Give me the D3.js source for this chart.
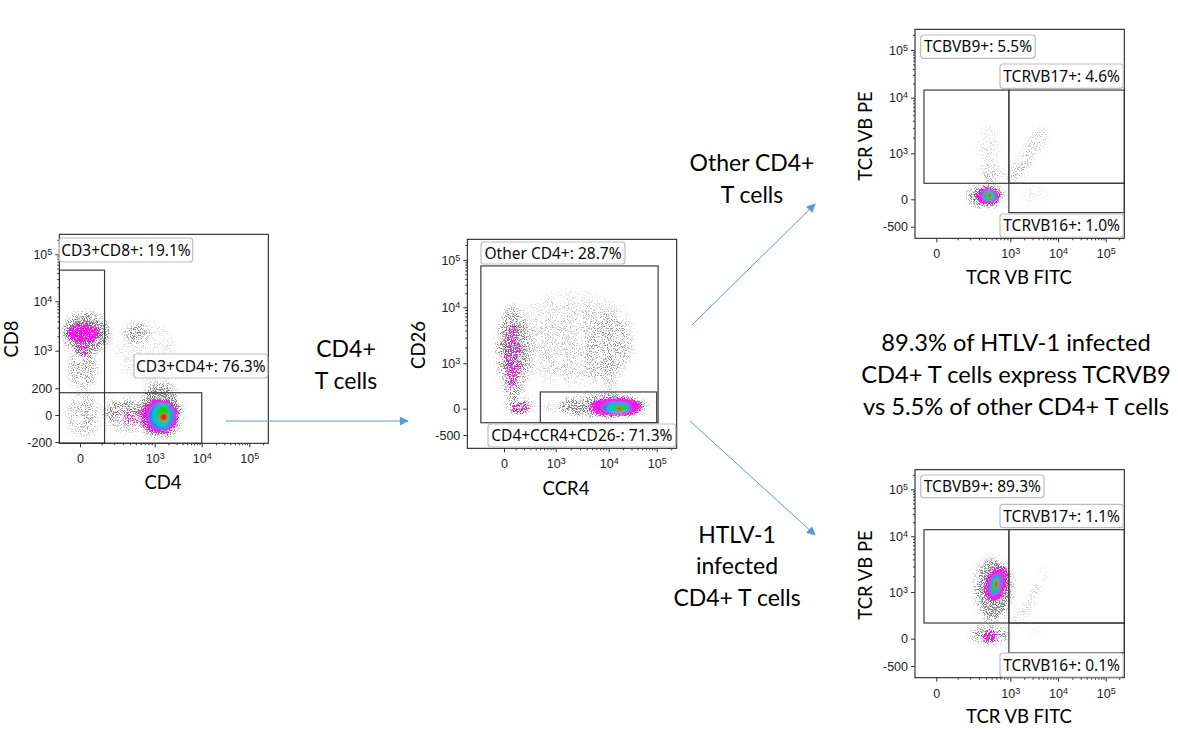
<!DOCTYPE html>
<html><head><meta charset="utf-8">
<script src="https://cdn.jsdelivr.net/npm/d3@7"></script>
<style>
html,body{margin:0;padding:0;background:#fff}
svg{display:block}
.slide{font-family:Lato,"Open Sans",sans-serif;fill:#000}
.tick text{font-family:"Liberation Sans",Arial,sans-serif;font-size:12.5px;fill:#222}
.gatelabel{font-family:"Noto Sans",sans-serif;font-size:15.5px;fill:#0a0a0a}
</style></head><body>
<svg id="c" width="1178" height="749"></svg>
<script>
// ---------- tick labels (value, text) shared by the axes
const xTickValues = [0, 1e3, 1e4, 1e5];
const xMinorValues = [100,200,300,400,500,600,700,800,900,2e3,3e3,4e3,5e3,6e3,7e3,8e3,9e3,2e4,3e4,4e4,5e4,6e4,7e4,8e4,9e4,2e5];
const yTicksCd8 = [-200, 0, 200, 1e3, 1e4, 1e5];
const yTicksOther = [-500, 0, 1e3, 1e4, 1e5];
const yMinorValues = [2e3,3e3,4e3,5e3,6e3,7e3,8e3,9e3,2e4,3e4,4e4,5e4,6e4,7e4,8e4,9e4,2e5];

// ---------- density regions, in axis values
// ellipses: [xLow, xHigh, yLow, yHigh, density]  tilted regions: [density, [x,y], [x,y], ...]
const cd4Grey = [
  [-75,160,900,6000,.72],[-45,75,200,1100,.42],[-55,95,-180,170,.26],[-20,60,-100,120,.2],
  [340,780,1400,3700,.48],[200,2800,280,4200,.14],
  [560,3900,-160,220,.75],[750,2600,40,340,.35],[120,700,-55,85,.45],[110,850,-120,120,.2]
];
const cd4Magenta = [[-50,90,1450,3700,.98],[-15,35,850,1600,.34],[620,3200,-108,92,1],[300,800,-35,25,.28]];
const cd4Cores = [
  ["#ee1ae6",720,2950,-92,78],["#2a78ee",800,2700,-82,68],["#00c8d2",920,2350,-65,58],["#18cc18",1120,2100,-39,49],["#e2241a",1300,1900,-28,8]
];
const ccr4Grey = [
  [-50,280,90,1.1e4,.52],[-10,170,800,5000,.4],[60,3.6e4,280,2.2e4,.17],[300,3e4,400,1.1e4,.11],[4000,2.6e4,280,8000,.22],
  [10,340,-55,110,.52],[1200,6.5e4,-110,165,.62],[500,4000,-35,50,.3],[8500,1.5e4,80,400,.24]
];
const ccr4Magenta = [[5,160,280,5000,.46],[55,270,-45,55,.55],[4500,5e4,-80,108,1]];
const ccr4Cores = [
  ["#ee1ae6",5200,4.5e4,-68,95],["#2a78ee",7500,3e4,-48,65],["#00c8d2",9000,2.7e4,-40,48],["#18cc18",1.2e4,2.4e4,-30,30],["#e2241a",1.5e4,1.9e4,-18,18]
];
const vb1Grey = [
  [175,800,-90,150,.7],[290,680,190,3200,.17],[330,800,170,500,.24],[1900,6000,-60,140,.13]
];
const vb1Tilted = [[.32,[880,310],[2000,1200],[4500,3000],[6000,2300],[3000,700],[1400,170]]];
const vb1Magenta = [[265,690,-50,115,1]];
const vb1Cores = [
  ["#ee1ae6",290,650,-38,104],["#2a78ee",340,610,-25,90],["#00c8d2",360,570,-12,75],["#18cc18",380,530,0,60],["#e2241a",430,500,15,50]
];
const vb2Grey = [
  [265,1060,280,3900,.7],[350,780,180,500,.5],[215,1250,200,4800,.2],[205,950,-55,120,.62],[1900,6000,30,90,.1]
];
const vb2Tilted = [[.26,[1000,180],[2000,550],[5000,2700],[5600,2400],[3000,500],[1400,130]]];
const vb2MagentaTilted = [[1,[420,780],[410,1750],[620,2900],[850,2550],[830,1100],[620,670]]];
const vb2Magenta = [[340,610,-22,65,.85]];
const vb2CoresTilted = [
  ["#ee1ae6",[445,840],[440,1700],[620,2650],[790,2300],[770,1100],[610,750]],
  ["#2a78ee",[480,920],[480,1700],[620,2250],[720,1950],[700,1100],[580,870]],
  ["#00c8d2",[510,1000],[520,1700],[630,2000],[680,1700],[650,1100],[560,960]],
  ["#18cc18",[530,1020],[540,1600],[620,1850],[650,1550],[620,1120]],
  ["#e2241a",[570,1200],[575,1600],[630,1700],[625,1300]]
];

// ---------- gates as axis values [xLow, xHigh, yLow, yHigh]
const cd4Gates = [[-94,120,-210,4.6e4],[-94,1e4,-210,150]];
const ccr4Gates = [[-200,1.07e5,-190,7.5e4],[504,1.0e5,-190,187]];
const vb1Gates = [[-45,950,173,1.45e4],[950,2.6e5,173,1.45e4],[950,2.6e5,-168,173]];
const vb2Gates = [[-45,950,165,1.39e4],[950,2.6e5,165,1.39e4],[950,2.6e5,-180,165]];

// ---------- gate labels
const cd4Labels = ["CD3+CD8+: 19.1%","CD3+CD4+: 76.3%"];
const ccr4Labels = ["Other CD4+: 28.7%","CD4+CCR4+CD26-: 71.3%"];
const vb1Labels = ["TCBVB9+: 5.5%","TCRVB17+: 4.6%","TCRVB16+: 1.0%"];
const vb2Labels = ["TCBVB9+: 89.3%","TCRVB17+: 1.1%","TCRVB16+: 0.1%"];

// ---------- slide text
const noteTexts = [
  ["CD4+",346,349],["T cells",346,381],["Other CD4+",752,163],["T cells",752,195],
  ["HTLV-1",737,535],["infected",737,566],["CD4+ T cells",737,598]
];
const summaryTexts = [
  ["89.3% of HTLV-1 infected",1016,343],["CD4+ T cells express TCRVB9",1016,375],["vs 5.5% of other CD4+ T cells",1016,407]
];
const arrows = [[226,421,408,421],[692,325,815,204],[690,421,815,535]];

// ---------- layout
const panels = [
 {name:"cd4", frame:[59.3,268.3,234.3,443.3], xc:100,yc:100,
  xd:[-94,0,1e3,1e4,1e5,2.6e5], xr:[59.3,80,154.7,201.7,249.3,268.3],
  yd:[-210,-200,0,200,1e3,1e4,1e5,2.6e5], yr:[443.3,442,415,388.3,350.7,301.3,254.3,234.3],
  yt:yTicksCd8, grey:cd4Grey, tilted:[], magenta:cd4Magenta, magT:[], cores:cd4Cores, coresT:[], gates:cd4Gates, labels:cd4Labels,
  boxes:[[59.3,238,133.4,24],[134,354,133.7,24]],
  xt:["CD4",163,489], yl:["CD8",18,339]},
 {name:"ccr4", frame:[467.3,676.7,239.3,448.3], xc:200,yc:200,
  xd:[-400,0,1e3,1e4,1e5,2.6e5], xr:[467.3,504,555.7,608.7,656.7,676.7],
  yd:[-800,-500,0,1e3,1e4,1e5,2.6e5], yr:[448.3,435,408.7,363.3,307.3,260,239.3],
  yt:yTicksOther, grey:ccr4Grey, tilted:[], magenta:ccr4Magenta, magT:[], cores:ccr4Cores, coresT:[], gates:ccr4Gates, labels:ccr4Labels,
  boxes:[[481,242,144,22],[488,424,187.7,23]],
  xt:["CCR4",566,495], yl:["CD26",425,345]},
 {name:"vb1", frame:[915,1124.3,29.3,238.3], xc:100,yc:200,
  xd:[-90,0,1e3,1e4,1e5,2.6e5], xr:[915,936.3,1010.3,1058,1105.7,1124.3],
  yd:[-800,-500,0,1e3,1e4,1e5,2.6e5], yr:[238.3,226.7,199.3,153.3,97.7,50,29.3],
  yt:yTicksOther, grey:vb1Grey, tilted:vb1Tilted, magenta:vb1Magenta, magT:[], cores:vb1Cores, coresT:[], gates:vb1Gates, labels:vb1Labels,
  boxes:[[920.7,35,114.6,23.3],[1000,64,123.3,24.3],[1000,214,123.3,23.3]],
  xt:["TCR VB FITC",1019,284], yl:["TCR VB PE",872,136]},
 {name:"vb2", frame:[915,1124.3,469.7,677.7], xc:100,yc:200,
  xd:[-90,0,1e3,1e4,1e5,2.6e5], xr:[915,936.3,1010.3,1058,1105.7,1124.3],
  yd:[-800,-500,0,1e3,1e4,1e5,2.6e5], yr:[677.7,666,638.7,592,536.3,489.3,469.7],
  yt:yTicksOther, grey:vb2Grey, tilted:vb2Tilted, magenta:vb2Magenta, magT:vb2MagentaTilted, cores:[], coresT:vb2CoresTilted, gates:vb2Gates, labels:vb2Labels,
  boxes:[[920.7,475,123.3,22.7],[1000,504.3,123.3,23.4],[1000,653,123.3,24]],
  xt:["TCR VB FITC",1019,723], yl:["TCR VB PE",872,575]}
];

const svg = d3.select("#c");
const defs = svg.append("defs");
function grainFilter(id, rgb, blur, gain, seed){
  const f = defs.append("filter").attr("id",id).attr("filterUnits","userSpaceOnUse")
    .attr("x",0).attr("y",0).attr("width",1178).attr("height",749).attr("color-interpolation-filters","sRGB");
  f.append("feGaussianBlur").attr("in","SourceGraphic").attr("stdDeviation",blur).attr("result","soft");
  f.append("feTurbulence").attr("type","fractalNoise").attr("baseFrequency",0.95).attr("numOctaves",3).attr("seed",seed).attr("result","noise");
  f.append("feColorMatrix").attr("in","noise").attr("type","matrix")
    .attr("values","0 0 0 0 0 0 0 0 0 0 0 0 0 0 0 0 0 0 3.6 -1.3").attr("result","n");
  f.append("feComposite").attr("in","soft").attr("in2","n").attr("operator","arithmetic")
    .attr("k1",0).attr("k2",1).attr("k3",1).attr("k4",-1).attr("result","m");
  f.append("feColorMatrix").attr("in","m").attr("type","matrix")
    .attr("values",`0 0 0 0 ${rgb[0]} 0 0 0 0 ${rgb[1]} 0 0 0 0 ${rgb[2]} 0 0 0 ${gain} 0`);
}
grainFilter("grainGrey",[.5,.5,.5],3.4,1.9,5);
grainFilter("grainMagenta",[.93,.1,.9],1.5,6,11);
const softF = defs.append("filter").attr("id","soft").attr("x","-30%").attr("y","-30%").attr("width","160%").attr("height","160%");
softF.append("feGaussianBlur").attr("stdDeviation",.9);
const marker = defs.append("marker").attr("id","head").attr("viewBox","0 0 10 10").attr("refX",9).attr("refY",5)
  .attr("markerWidth",10).attr("markerHeight",9).attr("orient","auto").attr("markerUnits","userSpaceOnUse");
marker.append("path").attr("d","M0,0L10,5L0,10Z").attr("fill","#5b9bd5");

const closed = d3.line().curve(d3.curveCatmullRomClosed.alpha(.5));
function superText(sel){
  sel.each(function(d){
    const t = d3.select(this); t.text(null);
    if (d>=1000){
      t.append("tspan").text("10");
      t.append("tspan").attr("dy","-0.42em").attr("font-size","9px").text(Math.round(Math.log10(d)));
    } else t.text(d);
  });
}

panels.forEach(p=>{
  const [L,R,T,B] = p.frame;
  const x = d3.scaleSymlog().constant(p.xc).domain(p.xd).range(p.xr);
  const y = d3.scaleSymlog().constant(p.yc).domain(p.yd).range(p.yr);
  const g = svg.append("g").attr("id",p.name);
  const cid = "clip-"+p.name;
  defs.append("clipPath").attr("id",cid).append("rect").attr("x",L).attr("y",T).attr("width",R-L).attr("height",B-T);
  const plot = g.append("g").attr("clip-path",`url(#${cid})`);
  const ell = (sel,rows,get)=>sel.selectAll("ellipse").data(rows).join("ellipse")
    .attr("cx",d=>(x(d[0])+x(d[1]))/2).attr("rx",d=>Math.abs(x(d[1])-x(d[0]))/2)
    .attr("cy",d=>(y(d[2])+y(d[3]))/2).attr("ry",d=>Math.abs(y(d[3])-y(d[2]))/2)
    .attr("fill","#000").attr("fill-opacity",get);
  const gg = plot.append("g").attr("filter","url(#grainGrey)");
  ell(gg,p.grey,d=>d[4]);
  gg.selectAll("path").data(p.tilted).join("path")
    .attr("d",d=>closed(d.slice(1).map(q=>[x(q[0]),y(q[1])]))).attr("fill","#000").attr("fill-opacity",d=>d[0]);
  const gm = plot.append("g").attr("filter","url(#grainMagenta)");
  ell(gm,p.magenta,d=>d[4]);
  gm.selectAll("path").data(p.magT).join("path")
    .attr("d",d=>closed(d.slice(1).map(q=>[x(q[0]),y(q[1])]))).attr("fill","#000").attr("fill-opacity",d=>d[0]);
  const gc = plot.append("g").attr("filter","url(#soft)");
  gc.selectAll("ellipse").data(p.cores).join("ellipse")
    .attr("cx",d=>(x(d[1])+x(d[2]))/2).attr("rx",d=>Math.abs(x(d[2])-x(d[1]))/2)
    .attr("cy",d=>(y(d[3])+y(d[4]))/2).attr("ry",d=>Math.abs(y(d[4])-y(d[3]))/2).attr("fill",d=>d[0]);
  gc.selectAll("path").data(p.coresT).join("path")
    .attr("d",d=>closed(d.slice(1).map(q=>[x(q[0]),y(q[1])]))).attr("fill",d=>d[0]);
  plot.selectAll("rect.gate").data(p.gates).join("rect").attr("class","gate")
    .attr("x",d=>x(d[0])).attr("width",d=>x(d[1])-x(d[0])).attr("y",d=>y(d[3])).attr("height",d=>y(d[2])-y(d[3]))
    .attr("fill","none").attr("stroke","#3c3c3c").attr("stroke-width",1.2);
  g.append("rect").attr("x",L).attr("y",T).attr("width",R-L).attr("height",B-T).attr("fill","none").attr("stroke","#111").attr("stroke-width",1);
  const xa = g.append("g").attr("transform",`translate(0,${B})`).call(d3.axisBottom(x).tickValues(xTickValues).tickSize(4).tickPadding(7));
  xa.select(".domain").remove(); xa.selectAll("text").call(superText);
  const xm = g.append("g").attr("transform",`translate(0,${B})`).call(d3.axisBottom(x).tickValues(xMinorValues).tickSize(2).tickFormat(""));
  xm.select(".domain").remove();
  const ya = g.append("g").attr("transform",`translate(${L},0)`).call(d3.axisLeft(y).tickValues(p.yt).tickSize(4).tickPadding(3));
  ya.select(".domain").remove(); ya.selectAll("text").call(superText);
  const ym = g.append("g").attr("transform",`translate(${L},0)`).call(d3.axisLeft(y).tickValues(yMinorValues).tickSize(2).tickFormat(""));
  ym.select(".domain").remove();
  g.selectAll(".tick line").attr("stroke","#333");
  p.labels.forEach((t,i)=>{
    const b = p.boxes[i];
    g.append("rect").attr("x",b[0]).attr("y",b[1]).attr("width",b[2]).attr("height",b[3]).attr("rx",3)
      .attr("fill","#fff").attr("fill-opacity",.92).attr("stroke","#bdbdbd").attr("stroke-width",1.2);
    g.append("text").attr("class","gatelabel").attr("x",b[0]+b[2]/2).attr("y",b[1]+b[3]/2+5.5).attr("text-anchor","middle").text(t);
  });
  g.append("text").attr("class","slide").attr("x",p.xt[1]).attr("y",p.xt[2]).attr("text-anchor","middle").attr("font-size",18.5).text(p.xt[0]);
  g.append("text").attr("class","slide").attr("transform",`translate(${p.yl[1]},${p.yl[2]}) rotate(-90)`).attr("text-anchor","middle").attr("font-size",18.5).text(p.yl[0]);
});

svg.selectAll("line.arrow").data(arrows).join("line").attr("class","arrow")
  .attr("x1",d=>d[0]).attr("y1",d=>d[1]).attr("x2",d=>d[2]).attr("y2",d=>d[3])
  .attr("stroke","#5b9bd5").attr("stroke-width",1).attr("marker-end","url(#head)");
svg.selectAll("text.note").data(noteTexts).join("text").attr("class","note slide")
  .attr("x",d=>d[1]).attr("y",d=>d[2]+8).attr("text-anchor","middle").attr("font-size",23).text(d=>d[0]);
svg.selectAll("text.summary").data(summaryTexts).join("text").attr("class","summary slide")
  .attr("x",d=>d[1]).attr("y",d=>d[2]+8).attr("text-anchor","middle").attr("font-size",23.7).text(d=>d[0]);
</script>
</body></html>
